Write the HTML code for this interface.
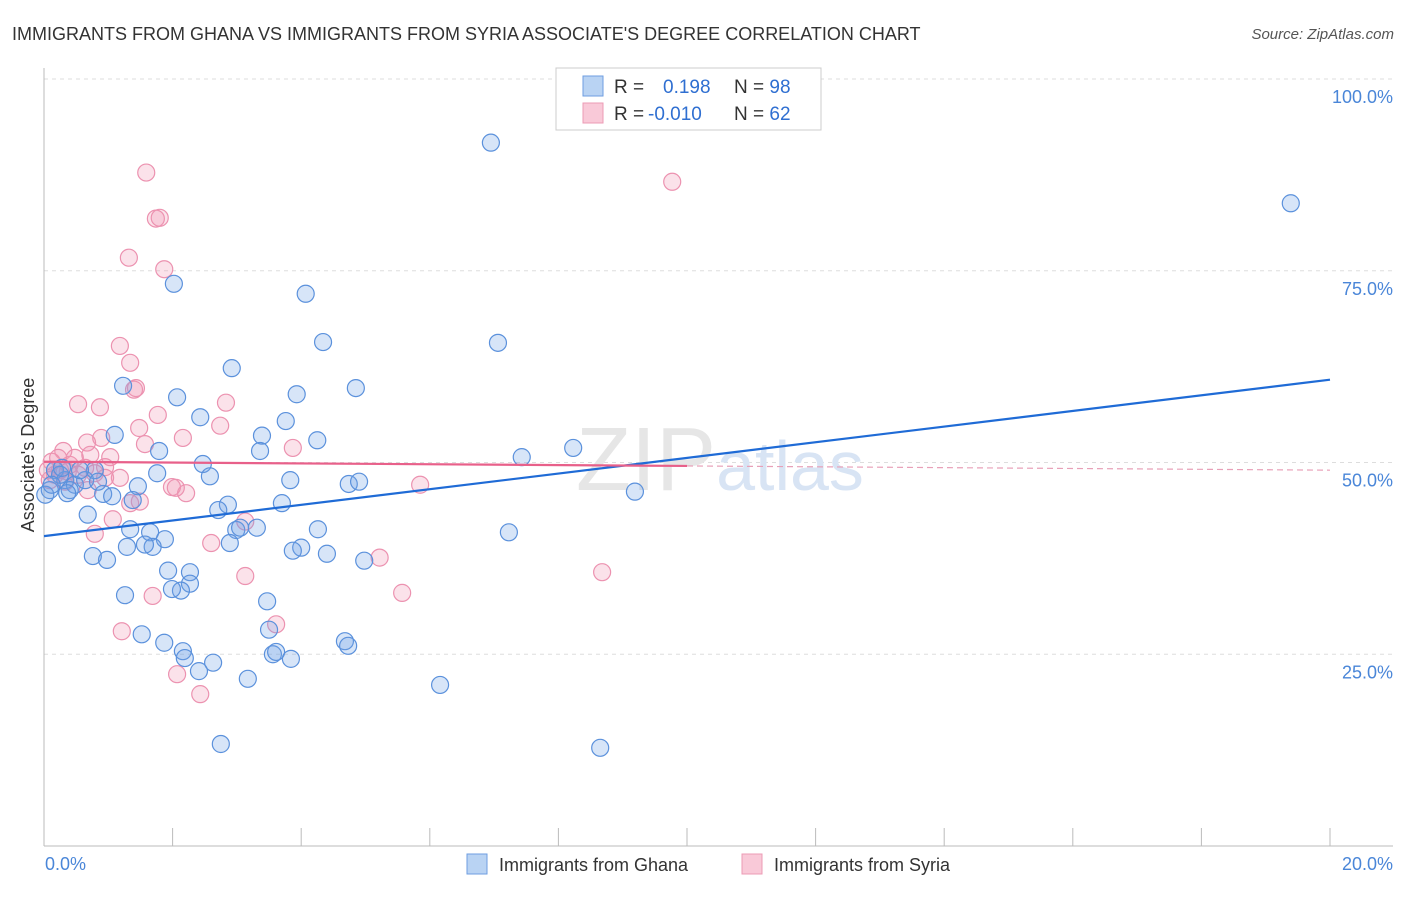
<!DOCTYPE html>
<html><head><meta charset="utf-8"><style>
body{margin:0;background:#fff;font-family:"Liberation Sans",sans-serif}
svg text{font-family:"Liberation Sans",sans-serif}
</style></head><body>
<svg id="chart" width="1406" height="892">
<text x="12" y="40" font-size="18" fill="#333">IMMIGRANTS FROM GHANA VS IMMIGRANTS FROM SYRIA ASSOCIATE'S DEGREE CORRELATION CHART</text>
<text x="1394" y="39" font-size="15" fill="#555" text-anchor="end" font-style="italic">Source: ZipAtlas.com</text>
<g id="grid"></g>
<text x="720" y="490" font-size="90" fill="#e6e6e6" text-anchor="middle" font-family="Liberation Serif">ZIP<tspan fill="#d8e4f4" font-family="Liberation Sans" font-size="70">atlas</tspan></text>
<g id="axes"></g>
<g id="pts"></g>
<g id="trends"></g>
<text transform="translate(34,455) rotate(-90)" font-size="18" fill="#333" text-anchor="middle">Associate's Degree</text>
<g>
<rect x="556" y="68" width="265" height="62" fill="#fff" stroke="#ccc"/>
<rect x="583" y="76" width="20" height="20" fill="#b9d3f3" stroke="#6e9ee0"/>
<rect x="583" y="103" width="20" height="20" fill="#f9c9d8" stroke="#ec9bb5"/>
<text x="614" y="93" font-size="19" fill="#333">R = <tspan x="663" fill="#2f6fd1">0.198</tspan><tspan x="734" fill="#333">N = </tspan><tspan fill="#2f6fd1">98</tspan></text>
<text x="614" y="120" font-size="19" fill="#333">R = <tspan x="648" fill="#2f6fd1">-0.010</tspan><tspan x="734" fill="#333">N = </tspan><tspan fill="#2f6fd1">62</tspan></text>
</g>
<g>
<rect x="467" y="854" width="20" height="20" fill="#b9d3f3" stroke="#6e9ee0"/>
<text x="499" y="871" font-size="18" fill="#333">Immigrants from Ghana</text>
<rect x="742" y="854" width="20" height="20" fill="#f9c9d8" stroke="#ec9bb5"/>
<text x="774" y="871" font-size="18" fill="#333">Immigrants from Syria</text>
</g>
</svg>
<script>
const ghanaX=[6.95,19.39,2.02,4.07,4.34,7.06,2.92,1.23,3.93,4.85,2.07,2.43,3.76,1.10,3.39,4.25,1.79,3.36,7.43,8.23,2.47,1.76,2.58,3.83,4.74,4.90,9.19,1.46,0.92,1.38,1.06,2.86,2.71,3.70,0.68,4.26,2.99,3.05,3.31,1.34,1.65,1.88,7.23,2.89,1.69,1.57,1.29,4.00,3.87,4.40,0.76,0.98,4.98,1.93,2.27,2.27,2.13,1.99,1.26,3.47,1.52,3.50,1.87,4.68,4.73,2.16,2.19,2.63,3.56,3.61,3.84,2.41,3.17,6.16,2.75,8.65,0.17,0.33,0.48,0.09,0.25,0.64,0.79,0.40,0.02,0.56,0.28,0.12,0.84,0.36];
const ghanaY=[91.7,83.8,73.3,72.0,65.7,65.6,62.3,60.0,58.9,59.7,58.5,55.9,55.4,53.6,53.5,52.9,51.5,51.5,50.7,51.9,49.8,48.6,48.2,47.7,47.2,47.5,46.2,46.9,45.9,45.1,45.6,44.5,43.8,44.7,43.2,41.3,41.2,41.5,41.5,41.3,40.9,40.0,40.9,39.5,39.0,39.3,39.0,38.9,38.5,38.1,37.8,37.3,37.2,35.9,35.7,34.2,33.3,33.5,32.7,31.9,27.6,28.2,26.5,26.7,26.1,25.4,24.5,23.9,25.0,25.3,24.4,22.8,21.8,21.0,13.3,12.8,49.0,47.7,47.1,46.4,48.4,47.7,49.0,46.4,45.8,49.0,49.3,47.1,47.5,46.0];
const syriaX=[1.59,9.77,1.74,1.80,1.32,1.87,1.18,1.34,1.40,1.43,0.53,0.87,2.83,1.77,2.74,1.48,2.16,0.89,0.67,0.30,3.87,1.57,0.12,1.03,0.72,1.18,0.95,1.99,2.21,5.85,2.05,1.34,1.49,1.07,0.79,3.13,2.60,5.22,3.13,8.68,1.69,5.57,3.61,1.21,2.07,2.43,0.17,0.25,0.40,0.53,0.06,0.33,0.64,0.79,0.22,0.48,0.95,0.09,0.68,0.37];
const syriaY=[87.8,86.6,81.8,81.9,76.7,75.2,65.2,63.0,59.5,59.7,57.6,57.2,57.8,56.2,54.8,54.5,53.2,53.2,52.6,51.5,51.9,52.4,50.1,50.7,51.0,48.0,48.0,46.8,46.0,47.1,46.7,44.7,44.9,42.6,40.7,42.3,39.5,37.6,35.2,35.7,32.6,33.0,28.9,28.0,22.4,19.8,48.4,49.0,49.7,48.4,49.0,47.5,49.3,48.6,50.6,50.6,49.4,47.7,46.4,48.8];
const xTicks=[0,2,4,6,8,10,12,14,16,18,20];
const yTicks=[25,50,75,100];
const yTickLabels=["25.0%","50.0%","75.0%","100.0%"];
const ghanaTrend=[40.4,60.8];
const syriaTrend=[50.1,49.0];
const NS="http://www.w3.org/2000/svg";
const X=v=>44+v*64.3, Y=v=>846-v*7.67;
function mk(p,t,a){const e=document.createElementNS(NS,t);for(const k in a)e.setAttribute(k,a[k]);p.appendChild(e);return e;}
const grid=document.getElementById('grid'),axes=document.getElementById('axes'),pts=document.getElementById('pts'),tr=document.getElementById('trends');
yTicks.forEach((t,i)=>{
 const l=mk(grid,'line',{x1:44,x2:1393,y1:Y(t),y2:Y(t),stroke:'#ddd','stroke-dasharray':'4,4'});
 
 
 const tx=mk(axes,'text',{x:1393,y:Y(t)+24,'font-size':18,fill:'#4a86d8','text-anchor':'end'});
 tx.textContent=yTickLabels[i];
 
 
});
mk(axes,'line',{x1:44,x2:44,y1:68,y2:846,stroke:'#bbb'});
mk(axes,'line',{x1:44,x2:1393,y1:846,y2:846,stroke:'#bbb'});
xTicks.forEach(t=>{const l=mk(axes,'line',{x1:X(t),x2:X(t),y1:828,y2:846,stroke:'#bbb'});
 
 });
let a=mk(axes,'text',{x:45,y:870,'font-size':18,fill:'#4a86d8'});a.textContent='0.0%';


a=mk(axes,'text',{x:1393,y:870,'font-size':18,fill:'#4a86d8','text-anchor':'end'});a.textContent='20.0%';


syriaX.forEach((x,i)=>{const c=mk(pts,'circle',{cx:X(x),cy:Y(syriaY[i]),r:8.5,fill:'rgba(240,150,180,0.28)',stroke:'#ec92b0','stroke-width':1.2});
 
 });
ghanaX.forEach((x,i)=>{const c=mk(pts,'circle',{cx:X(x),cy:Y(ghanaY[i]),r:8.5,fill:'rgba(110,160,230,0.28)',stroke:'#5b91dc','stroke-width':1.2});
 
 });
let l=mk(tr,'line',{x1:X(0),y1:Y(ghanaTrend[0]),x2:X(20),y2:Y(ghanaTrend[1]),stroke:'#1f6bd6','stroke-width':2.2});


const mid=syriaTrend[0]+(syriaTrend[1]-syriaTrend[0])*0.5;
l=mk(tr,'line',{x1:X(0),y1:Y(syriaTrend[0]),x2:X(10),y2:Y(mid),stroke:'#e8608a','stroke-width':2.2});


l=mk(tr,'line',{x1:X(10),y1:Y(mid),x2:X(20),y2:Y(syriaTrend[1]),stroke:'#e8a0b8','stroke-width':1.2,'stroke-dasharray':'6,4'});


</script>
</body></html>
